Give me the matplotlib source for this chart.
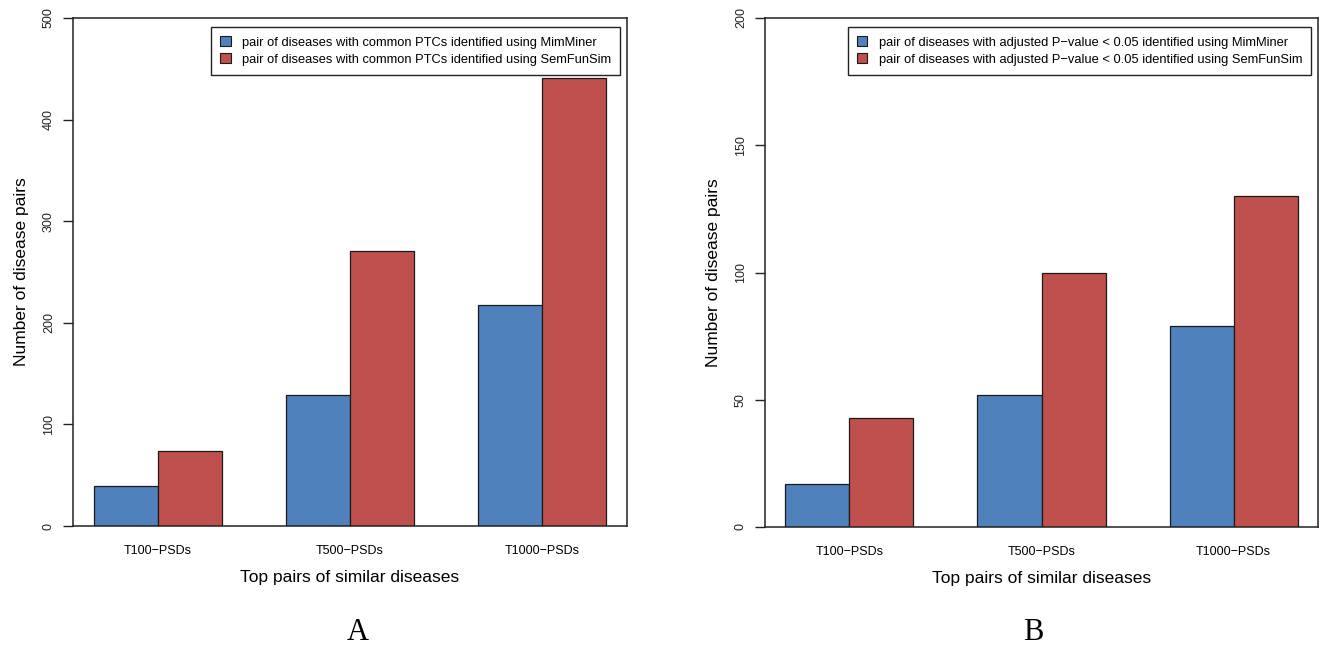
import matplotlib
matplotlib.use('Agg')
import matplotlib.pyplot as plt
from matplotlib.patches import Patch
import numpy as np

plt.rcParams['font.family'] = ['Liberation Sans', 'DejaVu Sans']

# Colours (Excel-like blue / red used in the original R plot)
colors = {
    'blue': '#4F81BD',
    'red': '#C0504D',
    'edge': '#1a1a1a',
}

# Data
categories = ['T100\u2212PSDs', 'T500\u2212PSDs', 'T1000\u2212PSDs']
ptc_mimminer = [39, 129, 218]
ptc_semfunsim = [74, 271, 441]
padj_mimminer = [17, 52, 79]
padj_semfunsim = [43, 100, 130]

labels_a = ['pair of diseases with common PTCs identified using MimMiner',
            'pair of diseases with common PTCs identified using SemFunSim']
labels_b = ['pair of diseases with adjusted P\u2212value < 0.05 identified using MimMiner',
            'pair of diseases with adjusted P\u2212value < 0.05 identified using SemFunSim']

fig = plt.figure(figsize=(13.21, 6.45), dpi=100, facecolor='white')
ax1 = fig.add_axes([73 / 1321, 119 / 645, 554 / 1321, 508 / 645])
ax2 = fig.add_axes([765 / 1321, 118 / 645, 553 / 1321, 509 / 645])


def draw_panel(ax, blue_vals, red_vals, ymax, yticks, legend_labels, letter, letter_x):
    # R barplot(beside=TRUE) layout: one bar-width gap before each group
    centers = np.arange(len(categories)) * 3 + 2
    ax.bar(centers - 0.5, blue_vals, width=1.0, color=colors['blue'],
           edgecolor=colors['edge'], linewidth=0.9)
    ax.bar(centers + 0.5, red_vals, width=1.0, color=colors['red'],
           edgecolor=colors['edge'], linewidth=0.9)
    ax.set_xlim(0.68, 9.32)
    ax.set_ylim(0, ymax)

    ax.set_xticks(centers)
    ax.set_xticklabels(categories, fontsize=9)
    ax.tick_params(axis='x', length=0, pad=14)
    ax.set_yticks(yticks)
    ax.set_yticklabels([str(t) for t in yticks], rotation=90, va='center', fontsize=9)
    ax.tick_params(axis='y', length=7, width=1, pad=6, colors='#222222')

    for s in ax.spines.values():
        s.set_color('#222222')
        s.set_linewidth(1.1)

    ax.set_xlabel('Top pairs of similar diseases', fontsize=12.5, labelpad=9)
    ax.set_ylabel('Number of disease pairs', fontsize=12.5, labelpad=10)

    handles = [Patch(facecolor=colors['blue'], edgecolor=colors['edge'], linewidth=0.8),
               Patch(facecolor=colors['red'], edgecolor=colors['edge'], linewidth=0.8)]
    leg = ax.legend(handles, legend_labels, loc='upper right',
                    bbox_to_anchor=(0.988, 0.982), borderaxespad=0,
                    fontsize=9.3, frameon=True, fancybox=False, framealpha=1,
                    handlelength=0.8, handleheight=0.8, handletextpad=0.9,
                    labelspacing=0.35, borderpad=0.7)
    leg.get_frame().set_edgecolor('#222222')
    leg.get_frame().set_linewidth(1.0)

    fig.text(letter_x / 1321, 1 - 632 / 645, letter, ha='center', va='center',
             fontsize=22, family=['Liberation Serif', 'DejaVu Serif'])


draw_panel(ax1, ptc_mimminer, ptc_semfunsim, 500, [0, 100, 200, 300, 400, 500],
           labels_a, 'A', 358)
draw_panel(ax2, padj_mimminer, padj_semfunsim, 200, [0, 50, 100, 150, 200],
           labels_b, 'B', 1033)

plt.savefig('out.png', dpi=100, facecolor='white')
